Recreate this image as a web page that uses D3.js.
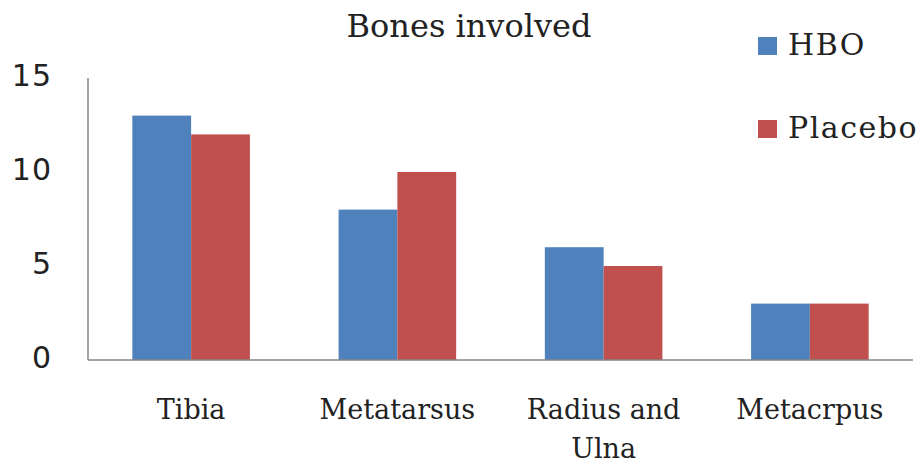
<!DOCTYPE html>
<html><head><meta charset="utf-8">
<script src="https://cdn.jsdelivr.net/npm/d3@7"></script>
<style>html,body{margin:0;padding:0;background:#fff;}</style>
</head><body>
<svg id="c" width="917" height="465"></svg>
<script>
const categories = ["Tibia", "Metatarsus", "Radius and\nUlna", "Metacrpus"];
const seriesNames = ["HBO", "Placebo"];
const hbo = [13, 8, 6, 3];
const placebo = [12, 10, 5, 3];
const yTicks = [0, 5, 10, 15];
const colors = ["#4F81BD", "#C0504D"];
const title = "Bones involved";

const svg = d3.select("#c");
const serif = "'DejaVu Serif', serif";
const sans = "'DejaVu Sans', sans-serif";

const y = d3.scaleLinear().domain([0, 15]).range([360, 78]);
const x0 = d3.scaleBand().domain(categories).range([88, 913]).paddingInner(0.43).paddingOuter(0.215);
const x1 = d3.scaleBand().domain(seriesNames).range([0, x0.bandwidth()]);

const data = categories.map((c, i) => ({cat: c, vals: [hbo[i], placebo[i]]}));

const g = svg.append("g");
g.selectAll("g.grp").data(data).join("g").attr("class", "grp")
  .attr("transform", d => `translate(${x0(d.cat)},0)`)
  .selectAll("rect").data(d => d.vals.map((v, j) => ({s: seriesNames[j], v, j})))
  .join("rect")
  .attr("x", d => x1(d.s)).attr("width", x1.bandwidth())
  .attr("y", d => y(d.v)).attr("height", d => y(0) - y(d.v))
  .attr("fill", d => colors[d.j]);

// axes
svg.append("line").attr("x1", 88).attr("x2", 88).attr("y1", y(15)).attr("y2", y(0))
  .attr("stroke", "#868686").attr("stroke-width", 1.5);
svg.append("line").attr("x1", 88).attr("x2", 913).attr("y1", y(0)).attr("y2", y(0))
  .attr("stroke", "#868686").attr("stroke-width", 1.5);

// y tick labels
svg.selectAll("text.yt").data(yTicks).join("text").attr("class", "yt")
  .attr("x", 52).attr("y", d => y(d) - 3)
  .attr("text-anchor", "end").attr("dominant-baseline", "central")
  .attr("font-family", sans).attr("font-size", 30).attr("fill", "#222")
  .attr("letter-spacing", 1)
  .text(d => d);

// category labels
svg.selectAll("text.xt").data(categories).join("text").attr("class", "xt")
  .attr("x", d => x0(d) + x0.bandwidth() / 2).attr("y", 419)
  .attr("text-anchor", "middle")
  .attr("font-family", serif).attr("font-size", 27).attr("fill", "#222")
  .each(function(d) {
    const lines = d.split("\n");
    d3.select(this).selectAll("tspan").data(lines).join("tspan")
      .attr("x", x0(d) + x0.bandwidth() / 2)
      .attr("dy", (l, i) => i === 0 ? 0 : 39)
      .text(l => l);
  });

// title
svg.append("text").attr("x", 469).attr("y", 37).attr("text-anchor", "middle")
  .attr("font-family", serif).attr("font-size", 32).attr("fill", "#222").text(title);

// legend
const leg = svg.selectAll("g.leg").data(seriesNames).join("g").attr("class", "leg")
  .attr("transform", (d, i) => `translate(758,${37 + i * 83})`);
leg.append("rect").attr("width", 19).attr("height", 18).attr("fill", (d, i) => colors[i]);
leg.append("text").attr("x", 30).attr("y", 18)
  .attr("font-family", serif).attr("font-size", 30).attr("fill", "#222")
  .attr("letter-spacing", 1.5).text(d => d);
</script>
</body></html>
